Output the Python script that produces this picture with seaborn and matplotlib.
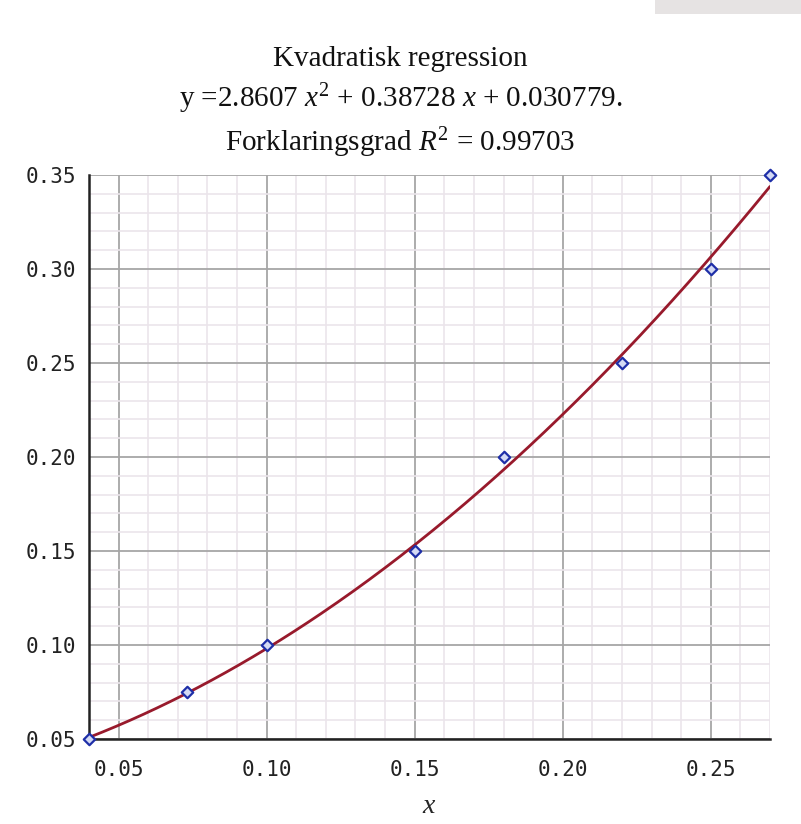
import numpy as np
import pandas as pd
import matplotlib
matplotlib.use("Agg")
import matplotlib.pyplot as plt
from matplotlib.ticker import MultipleLocator, FormatStrFormatter
from matplotlib.patches import Rectangle
import seaborn as sns

# data
x_data = [0.04, 0.073, 0.10, 0.15, 0.18, 0.22, 0.25, 0.27]
y_data = [0.05, 0.075, 0.10, 0.15, 0.20, 0.25, 0.30, 0.35]
coeffs = [2.8607, 0.38728, 0.030779]   # regression from title
r2 = 0.99703
x_ticks = [0.05, 0.10, 0.15, 0.20, 0.25]
y_ticks = [0.05, 0.10, 0.15, 0.20, 0.25, 0.30, 0.35]

sns.set_style("white")
plt.rcParams["mathtext.fontset"] = "custom"
plt.rcParams["mathtext.rm"] = "Liberation Serif"
plt.rcParams["mathtext.it"] = "Liberation Serif:italic"

fig = plt.figure(figsize=(8.01, 8.24), dpi=100)
ax = fig.add_axes([89/801, 1-739/824, (770-89)/801, (739-175)/824])

xs = np.linspace(min(x_data), max(x_data), 300)
curve = pd.DataFrame({"x": xs, "y": np.polyval(coeffs, xs)})
pts = pd.DataFrame({"x": x_data, "y": y_data})

sns.lineplot(data=curve, x="x", y="y", ax=ax, color="#981a2c", lw=2.0, zorder=3)
sns.scatterplot(data=pts, x="x", y="y", ax=ax, marker="D", s=34,
                facecolor="#d4daf4", edgecolor="#1f2fa8", linewidth=1.6,
                zorder=4, clip_on=False)

ax.set_xlim(0.04, 0.27)
ax.set_ylim(0.05, 0.35)
ax.set_xticks(x_ticks)
ax.set_yticks(y_ticks)
ax.xaxis.set_minor_locator(MultipleLocator(0.01))
ax.yaxis.set_minor_locator(MultipleLocator(0.01))
ax.xaxis.set_major_formatter(FormatStrFormatter("%.2f"))
ax.yaxis.set_major_formatter(FormatStrFormatter("%.2f"))
ax.grid(which="minor", color="#ebe5eb", lw=1.2, zorder=0)
ax.grid(which="major", color="#a6a6a6", lw=1.3, zorder=1)
ax.set_axisbelow(True)

for s in ["top", "right"]:
    ax.spines[s].set_visible(False)
for s in ["left", "bottom"]:
    ax.spines[s].set_color("#222222")
    ax.spines[s].set_linewidth(1.8)

ax.tick_params(which="both", direction="out", color="#666666")
ax.tick_params(which="major", length=6, width=1.0)
ax.tick_params(which="minor", length=4, width=0.8)
ax.tick_params(axis="both", which="major", labelsize=15)
ax.tick_params(axis="x", which="major", pad=9)
ax.tick_params(axis="y", which="major", pad=3)
for lab in ax.get_xticklabels() + ax.get_yticklabels():
    lab.set_fontfamily("DejaVu Sans Mono")
    lab.set_color("#222222")

ax.set_xlabel("$x$", fontsize=20, labelpad=8)
ax.set_ylabel("")

title = ("Kvadratisk regression\n"
         f"y =2.8607 $x^2$ + 0.38728 $x$ + 0.030779.\n"
         f"Forklaringsgrad $R^2$ = {r2}")
fig.text(0.5, 1-103/824, title, ha="center", va="center", fontsize=21,
         family="Liberation Serif", linespacing=1.35, color="#111111")

fig.patches.append(Rectangle((655/801, 1-14/824), 146/801, 14/824,
                             transform=fig.transFigure, facecolor="#e6e3e3",
                             edgecolor="none"))

fig.savefig("out.png", dpi=100)
